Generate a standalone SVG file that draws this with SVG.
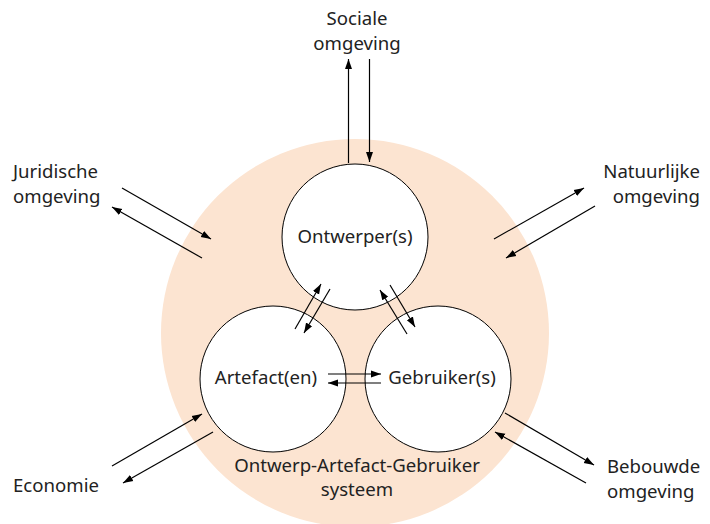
<svg xmlns="http://www.w3.org/2000/svg" width="710" height="524" viewBox="0 0 710 524">
  <defs>
    <marker id="head" viewBox="0 0 10 10" refX="10" refY="5" markerWidth="10" markerHeight="10" markerUnits="userSpaceOnUse" orient="auto">
      <path d="M0,1.5 L10,5 L0,8.5 Z" fill="#000"/>
    </marker>
    <style>
      .lbl { font-family: "Noto Sans", "Open Sans", sans-serif; font-size: 18.6px; fill: #222; text-anchor: middle; }
      .lft { text-anchor: start; }
      .rgt { text-anchor: end; }
      .node { fill: #fff; stroke: #000; stroke-width: 1; }
      .arr { stroke: #000; stroke-width: 1.2; fill: none; marker-end: url(#head); }
    </style>
  </defs>

  <rect width="710" height="524" fill="#fff"/>

  <!-- system boundary -->
  <g id="systeem">
    <circle cx="355" cy="333" r="194" fill="#fce4d1"/>
    <text class="lbl" x="357" y="472">Ontwerp-Artefact-Gebruiker</text>
    <text class="lbl" x="357" y="496">systeem</text>
  </g>

  <g id="ontwerper">
    <circle class="node" cx="355" cy="237" r="73"/>
    <text class="lbl" x="355" y="243">Ontwerper(s)</text>
  </g>
  <g id="artefact">
    <circle class="node" cx="273" cy="379" r="73"/>
    <text class="lbl" x="266" y="384">Artefact(en)</text>
  </g>
  <g id="gebruiker">
    <circle class="node" cx="438" cy="379" r="73"/>
    <text class="lbl" x="442" y="384">Gebruiker(s)</text>
  </g>

  <g id="sociale">
    <text class="lbl" x="357" y="25">Sociale</text>
    <text class="lbl" x="357" y="50">omgeving</text>
  </g>
  <g id="juridische">
    <text class="lbl lft" x="13" y="178">Juridische</text>
    <text class="lbl lft" x="13" y="203">omgeving</text>
  </g>
  <g id="natuurlijke">
    <text class="lbl rgt" x="700" y="178">Natuurlijke</text>
    <text class="lbl rgt" x="700" y="203">omgeving</text>
  </g>
  <g id="economie">
    <text class="lbl lft" x="13" y="492">Economie</text>
  </g>
  <g id="bebouwde">
    <text class="lbl lft" x="607" y="473">Bebouwde</text>
    <text class="lbl lft" x="607" y="498">omgeving</text>
  </g>

  <g id="connectors">
    <!-- Sociale omgeving -->
    <line class="arr" x1="348.5" y1="163" x2="348.5" y2="59"/>
    <line class="arr" x1="369.5" y1="59" x2="369.5" y2="162"/>
    <!-- Juridische omgeving -->
    <line class="arr" x1="122" y1="188" x2="211" y2="239"/>
    <line class="arr" x1="202" y1="258" x2="112" y2="207"/>
    <!-- Natuurlijke omgeving -->
    <line class="arr" x1="494" y1="239" x2="584" y2="188"/>
    <line class="arr" x1="595" y1="206" x2="506" y2="258"/>
    <!-- Economie -->
    <line class="arr" x1="112" y1="466" x2="202" y2="414"/>
    <line class="arr" x1="213" y1="432" x2="123" y2="483"/>
    <!-- Bebouwde omgeving -->
    <line class="arr" x1="505" y1="413" x2="594" y2="465"/>
    <line class="arr" x1="586" y1="483" x2="495" y2="432"/>
    <!-- Ontwerper - Artefact -->
    <line class="arr" x1="295" y1="329" x2="321" y2="284"/>
    <line class="arr" x1="330" y1="289" x2="304" y2="333"/>
    <!-- Ontwerper - Gebruiker -->
    <line class="arr" x1="407" y1="334" x2="380" y2="290"/>
    <line class="arr" x1="390" y1="285" x2="415" y2="327"/>
    <!-- Artefact - Gebruiker -->
    <line class="arr" x1="328" y1="374" x2="381" y2="374"/>
    <line class="arr" x1="381" y1="383" x2="328" y2="383"/>
  </g>
</svg>
